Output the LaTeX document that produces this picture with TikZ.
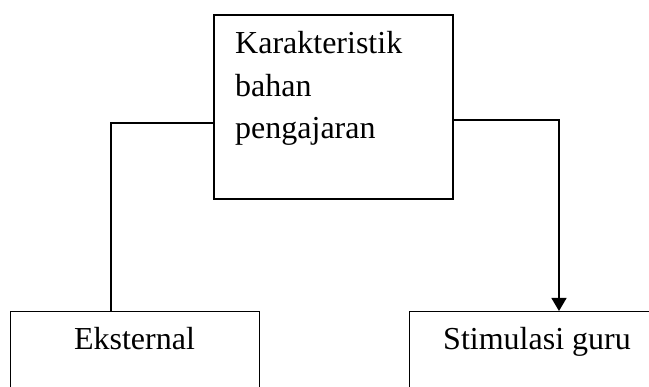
\documentclass[tikz,border=0pt]{standalone}
\usepackage{fontspec}
\setmainfont{Liberation Serif}
\usetikzlibrary{arrows.meta}

\tikzset{
  kotak/.style = {draw, line width=1.3pt, inner sep=0pt},
  teks/.style = {font=\fontsize{32}{42.5}\selectfont, inner sep=0pt},
  garis/.style = {line width=1.3pt}
}

\begin{document}
\begin{tikzpicture}[x=1pt, y=-1pt]
            \useasboundingbox (0,0) rectangle (649,387);
            \clip (0,0) rectangle (649,387);

            \node[kotak, minimum width=239pt, minimum height=184pt] (karak) at (333.5,107) {};
            \node[teks, anchor=base west, align=left] (karaktxt) at (235,139) {Karakteristik\\bahan\\pengajaran};

            \node[kotak, anchor=north west, minimum width=249.5pt, minimum height=130pt] (ekst) at (9.5,311) {};
            \node[teks, anchor=base] (eksttxt) at (134.5,350) {Eksternal};

            \node[kotak, anchor=north west, minimum width=256pt, minimum height=130pt] (stim) at (409,311) {};
            \node[teks, anchor=base] (stimtxt) at (537,350) {Stimulasi guru};

            \coordinate (kiri) at (111,123);
            \coordinate (kanan) at (559,120);

            \draw[garis] (karak.west |- kiri) -- (kiri) -- (ekst.north -| kiri);
            \draw[garis, -{Triangle[width=15pt, length=13pt]}] (karak.east |- kanan) -- (kanan) -- (stim.north -| kanan);
        \end{tikzpicture}
\end{document}
